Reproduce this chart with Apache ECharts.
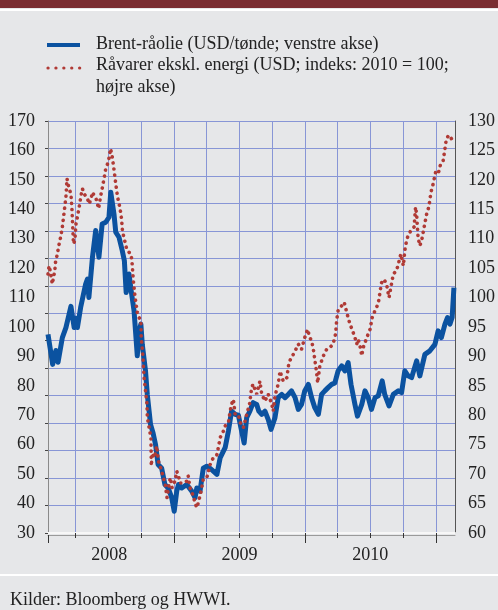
<!DOCTYPE html>
<html>
<head>
<meta charset="utf-8">
<script src="https://cdn.jsdelivr.net/npm/echarts@6/dist/echarts.min.js"></script>
<style>
html,body{margin:0;padding:0;background:#e6e7e9;}
#chart{width:498px;height:610px;}
</style>
</head>
<body>
<div id="chart"></div>
<script>
// Brent-råolie, USD/tønde (venstre akse)
const brentDates = ['2008-01-15','2008-01-28','2008-02-06','2008-02-12','2008-02-24','2008-03-05','2008-03-19','2008-03-28','2008-04-01','2008-04-06',
  '2008-04-15','2008-04-29','2008-05-04','2008-05-08','2008-05-18','2008-05-27','2008-06-05','2008-06-14','2008-06-24','2008-07-03',
  '2008-07-08','2008-07-12','2008-07-17','2008-07-22','2008-07-31','2008-08-09','2008-08-15','2008-08-20','2008-08-28','2008-09-03',
  '2008-09-11','2008-09-20','2008-09-25','2008-09-30','2008-10-04','2008-10-13','2008-10-18','2008-10-23','2008-10-27','2008-11-03',
  '2008-11-10','2008-11-17','2008-11-27','2008-12-06','2008-12-15','2008-12-25','2009-01-01','2009-01-08','2009-01-13','2009-01-22',
  '2009-02-05','2009-02-19','2009-02-28','2009-03-05','2009-03-14','2009-03-23','2009-04-02','2009-04-11','2009-04-20','2009-04-30',
  '2009-05-09','2009-05-23','2009-06-01','2009-06-10','2009-06-20','2009-06-29','2009-07-06','2009-07-15','2009-07-22','2009-07-31',
  '2009-08-09','2009-08-19','2009-08-25','2009-09-02','2009-09-11','2009-09-20','2009-09-28','2009-10-09','2009-10-18','2009-10-28',
  '2009-11-06','2009-11-15','2009-11-24','2009-12-04','2009-12-13','2009-12-22','2009-12-31','2010-01-10','2010-01-19','2010-01-28',
  '2010-02-07','2010-02-16','2010-02-25','2010-03-06','2010-03-16','2010-03-25','2010-04-03','2010-04-13','2010-04-22','2010-05-01',
  '2010-05-09','2010-05-20','2010-05-27','2010-06-08','2010-06-17','2010-06-26','2010-07-05','2010-07-15','2010-07-24','2010-08-04',
  '2010-08-11','2010-08-23','2010-09-04','2010-09-18','2010-09-27','2010-10-06','2010-10-15','2010-10-25','2010-11-08','2010-11-17',
  '2010-12-01','2010-12-15','2010-12-29','2011-01-07','2011-01-16','2011-01-26','2011-02-02','2011-02-09','2011-02-15','2011-02-20'];
const brentValues = [97.5,87.3,92,88,96.4,99.8,107,99.8,103,99.8,
  106.6,114.6,116.3,110,123.7,132.8,123.7,135,135.6,137.3,
  145.8,145.8,138.4,132.2,130.5,126,122.5,111.7,118,112.3,
  105.5,90.2,98.7,101,94,85,77,71.4,66.9,64,
  60,53.3,52,46.5,45.3,42,37.4,44.2,46.5,45.3,
  46.5,44.2,42,45.3,44.2,52,52.7,52,51,49.9,
  55.5,59,64.6,71.4,70.3,70,65.8,60.6,69.2,71.4,
  74.3,73.7,71.4,70.3,71.4,68.6,65.2,69.2,76,77.1,
  76,77.1,78.3,76,72,73.7,78.3,80.5,76,72.6,
  70.3,77.1,78.3,79.4,80.5,81,85.1,86.8,85.1,87.9,
  80.5,73.7,69.7,73.7,78.3,76,72,76,76.6,81.7,
  77.1,73.2,77.1,78.3,77.7,85.1,83.4,82.8,88.5,83.4,
  90.7,91.9,94.1,98.7,96.4,101,103.2,101,103.2,113.4];

// Råvarer ekskl. energi, indeks 2010 = 100 (højre akse)
const commodityDates = ['2008-01-15','2008-01-18','2008-01-22','2008-01-27','2008-01-30','2008-02-03','2008-02-05','2008-02-10','2008-02-14','2008-02-19',
  '2008-02-24','2008-02-29','2008-03-05','2008-03-08','2008-03-11','2008-03-14','2008-03-19','2008-03-22','2008-03-24','2008-03-26',
  '2008-03-30','2008-04-02','2008-04-06','2008-04-11','2008-04-16','2008-04-20','2008-04-25','2008-04-30','2008-05-04','2008-05-09',
  '2008-05-14','2008-05-18','2008-05-23','2008-05-28','2008-06-01','2008-06-04','2008-06-10','2008-06-15','2008-06-20','2008-06-24',
  '2008-06-29','2008-07-04','2008-07-07','2008-07-11','2008-07-15','2008-07-18','2008-07-22','2008-07-27','2008-08-03','2008-08-07',
  '2008-08-10','2008-08-14','2008-08-19','2008-08-23','2008-08-28','2008-09-02','2008-09-05','2008-09-09','2008-09-14','2008-09-20',
  '2008-09-25','2008-09-30','2008-10-01','2008-10-06','2008-10-09','2008-10-12','2008-10-17','2008-10-18','2008-10-23','2008-10-28',
  '2008-10-29','2008-11-01','2008-11-05','2008-11-07','2008-11-13','2008-11-18','2008-11-27','2008-12-07','2008-12-12','2008-12-16',
  '2008-12-21','2008-12-26','2009-01-03','2009-01-08','2009-01-13','2009-01-17','2009-01-26','2009-02-05','2009-02-09','2009-02-14',
  '2009-02-23','2009-02-28','2009-03-05','2009-03-09','2009-03-17','2009-03-23','2009-04-02','2009-04-11','2009-04-20','2009-04-30',
  '2009-05-04','2009-05-09','2009-05-18','2009-05-23','2009-06-01','2009-06-06','2009-06-10','2009-06-15','2009-06-20','2009-06-29',
  '2009-07-06','2009-07-13','2009-07-22','2009-07-30','2009-08-05','2009-08-09','2009-08-19','2009-08-28','2009-09-02','2009-09-11',
  '2009-09-20','2009-09-30','2009-10-04','2009-10-09','2009-10-18','2009-10-23','2009-11-01','2009-11-11','2009-11-17','2009-11-24',
  '2009-12-04','2009-12-13','2009-12-22','2009-12-31','2010-01-08','2010-01-14','2010-01-19','2010-01-24','2010-01-28','2010-02-02',
  '2010-02-05','2010-02-11','2010-02-21','2010-03-02','2010-03-11','2010-03-20','2010-03-27','2010-03-30','2010-04-03','2010-04-13',
  '2010-04-20','2010-04-27','2010-05-01','2010-05-06','2010-05-12','2010-05-20','2010-05-25','2010-05-29','2010-06-03','2010-06-08',
  '2010-06-12','2010-06-22','2010-07-01','2010-07-07','2010-07-15','2010-07-24','2010-07-29','2010-08-02','2010-08-09','2010-08-16',
  '2010-08-23','2010-08-28','2010-09-04','2010-09-13','2010-09-18','2010-09-25','2010-10-02','2010-10-06','2010-10-11','2010-10-15',
  '2010-10-23','2010-11-01','2010-11-05','2010-11-08','2010-11-12','2010-11-17','2010-11-22','2010-11-29','2010-12-06','2010-12-12',
  '2010-12-18','2010-12-24','2010-12-31','2011-01-07','2011-01-14','2011-01-21','2011-01-26','2011-01-30','2011-02-06','2011-02-13'];
const commodityValues = [104,105.4,104.3,102.3,102,104.6,106,107.4,108.8,110.2,
  112,114.5,117.1,120.2,119.3,118.5,117.6,114.8,112,109.1,
  109.7,112.5,113.7,115.4,117.3,118.5,117.6,117.3,116.8,115.9,
  116.8,117.9,117.3,116.8,115.9,115.1,117.3,118.8,120.5,121.9,
  122.7,123.9,125.3,124.4,122.7,121.3,119.3,117.1,115.1,113.4,
  111.1,110.2,108.8,108,108,107.4,106.3,102.9,100,97.5,
  96.6,96.1,93.2,89.8,86.4,84.7,81.9,79.6,77.9,76.2,
  71.4,73.6,73.9,72.8,74.8,72.2,70.5,68.2,66,67.7,
  69.4,67.7,68.8,70.5,69.7,68.5,68.5,68.8,69.7,67.7,
  66.3,65.1,64.3,65.1,67.1,69.1,69.4,71.6,72.8,73.3,
  74.5,76.2,77.3,78.2,78.7,80.7,81.9,82.7,80.1,80,
  78.4,77.9,80.1,81.9,84.7,85.3,83.6,85.8,83.6,82.4,
  83.6,81.9,80.7,83.3,85.3,87.5,85.8,86.4,89,89.8,
  90.9,92.1,91.2,93.2,94.6,93.2,92.7,91.2,89.5,87.3,
  85.5,88.4,90.1,91.2,91.5,92.1,93.8,96.1,97.8,98.6,
  99.2,97.5,96.6,95.5,94.6,93.2,92.1,92.9,91.8,90.1,
  91.5,93.2,94.6,96.6,97.8,99,101,102.5,103.1,102.3,
  100,101.7,104,104.6,105.7,107.4,105.4,108,109.7,110.5,
  111.4,112,115.4,114.2,110.2,108.8,109.7,112,114.2,115.4,
  117.9,119.3,121.3,121,122.7,123.3,125.3,127,127.6,127];

const xStart = '2008-01-15';
const xEnd = '2011-02-23';
const quarterStarts = ['2008-04-01','2008-07-01','2008-10-01','2009-01-01','2009-04-01','2009-07-01','2009-10-01',
  '2010-01-01','2010-04-01','2010-07-01','2010-10-01','2011-01-01'];
const yearTicks = ['2008-01-15','2009-01-01','2010-01-01','2011-01-01'];
const yearLabelDates = ['2008-07-04','2009-07-02','2010-07-02'];

const serif = '"Liberation Serif", "DejaVu Serif", serif';
const gridColor = '#8896d6';
const textColor = '#222';

function ts(s) {
    const p = s.split('-');
    return Date.UTC(+p[0], +p[1] - 1, +p[2]);
}

const chart = echarts.init(document.getElementById('chart'), null, {renderer: 'canvas'});

chart.setOption({
    backgroundColor: '#e6e7e9',
    animation: false,
    grid: {left: 48, right: 43, top: 121, bottom: 77, containLabel: false},
    xAxis: [{
        type: 'value',
        min: ts(xStart),
        max: ts(xEnd),
        position: 'bottom',
        axisLine: {show: true, lineStyle: {color: '#f7f7f7', width: 2}},
        axisTick: {show: true, customValues: quarterStarts.map(ts), length: 5, lineStyle: {color: '#333'}},
        axisLabel: {show: false},
        splitLine: {show: true, lineStyle: {color: gridColor, width: 1}}
    }, {
        type: 'value',
        min: ts(xStart),
        max: ts(xEnd),
        position: 'bottom',
        offset: 2,
        axisLine: {show: true, lineStyle: {color: '#9a9a9a', width: 1}},
        axisTick: {show: true, customValues: yearTicks.map(ts), length: 8, lineStyle: {color: '#333'}},
        axisLabel: {
            show: true,
            customValues: yearLabelDates.map(ts),
            formatter: v => String(new Date(v).getUTCFullYear()),
            fontFamily: serif, fontSize: 18, color: textColor, margin: 11
        },
        splitLine: {show: false}
    }],
    yAxis: [{
        type: 'value', min: 30, max: 170, interval: 10, position: 'left',
        axisLine: {show: true, lineStyle: {color: '#8a8a8a'}},
        axisTick: {show: false},
        splitLine: {show: false},
        axisLabel: {fontFamily: serif, fontSize: 18, color: textColor, margin: 13}
    }, {
        type: 'value', min: 60, max: 130, interval: 5, position: 'right',
        axisLine: {show: true, lineStyle: {color: '#555'}},
        axisTick: {show: false},
        splitLine: {show: false},
        axisLabel: {fontFamily: serif, fontSize: 18, color: textColor, margin: 13}
    }, {
        // gitterlinjer (15 lige store felter)
        type: 'value', min: 0, max: 15, interval: 1, position: 'left',
        axisLine: {show: false},
        axisTick: {show: true, length: 3, lineStyle: {color: '#444'}},
        axisLabel: {show: false},
        splitLine: {show: true, lineStyle: {color: gridColor, width: 1}}
    }],
    series: [{
        name: 'Brent-råolie (USD/tønde; venstre akse)',
        type: 'line',
        xAxisIndex: 0,
        yAxisIndex: 0,
        data: brentDates.map((d, i) => [ts(d), brentValues[i]]),
        symbol: 'none',
        lineStyle: {color: '#0b52a0', width: 5, join: 'round'},
        z: 3
    }, {
        name: 'Råvarer ekskl. energi (USD; indeks: 2010 = 100; højre akse)',
        type: 'line',
        xAxisIndex: 0,
        yAxisIndex: 1,
        data: commodityDates.map((d, i) => [ts(d), commodityValues[i]]),
        symbol: 'none',
        lineStyle: {color: '#b03a35', width: 3.6, type: [0.1, 6], cap: 'round'},
        z: 4
    }],
    graphic: [
        {type: 'rect', left: 0, top: 0, shape: {width: 498, height: 8}, style: {fill: '#7a2d32'}},
        {type: 'rect', left: 0, top: 9, shape: {width: 498, height: 2}, style: {fill: '#ffffff'}},
        {type: 'line', shape: {x1: 47, y1: 45, x2: 80, y2: 45}, style: {stroke: '#0b52a0', lineWidth: 4}},
        {type: 'line', shape: {x1: 48, y1: 68, x2: 81, y2: 68}, style: {stroke: '#b03a35', lineWidth: 3.2, lineDash: [0.1, 7.8], lineCap: 'round'}},
        {type: 'text', x: 96, y: 44, style: {text: 'Brent-råolie (USD/tønde; venstre akse)', font: '18px ' + serif, fill: textColor, verticalAlign: 'middle'}},
        {type: 'text', x: 96, y: 65.5, style: {text: 'Råvarer ekskl. energi (USD; indeks: 2010 = 100;', font: '18px ' + serif, fill: textColor, verticalAlign: 'middle'}},
        {type: 'text', x: 96, y: 87, style: {text: 'højre akse)', font: '18px ' + serif, fill: textColor, verticalAlign: 'middle'}},
        {type: 'rect', left: 0, top: 574, shape: {width: 498, height: 2}, style: {fill: '#ffffff'}},
        {type: 'text', x: 10, y: 600, style: {text: 'Kilder: Bloomberg og HWWI.', font: '18px ' + serif, fill: textColor, verticalAlign: 'middle'}}
    ]
});
</script>
</body>
</html>
